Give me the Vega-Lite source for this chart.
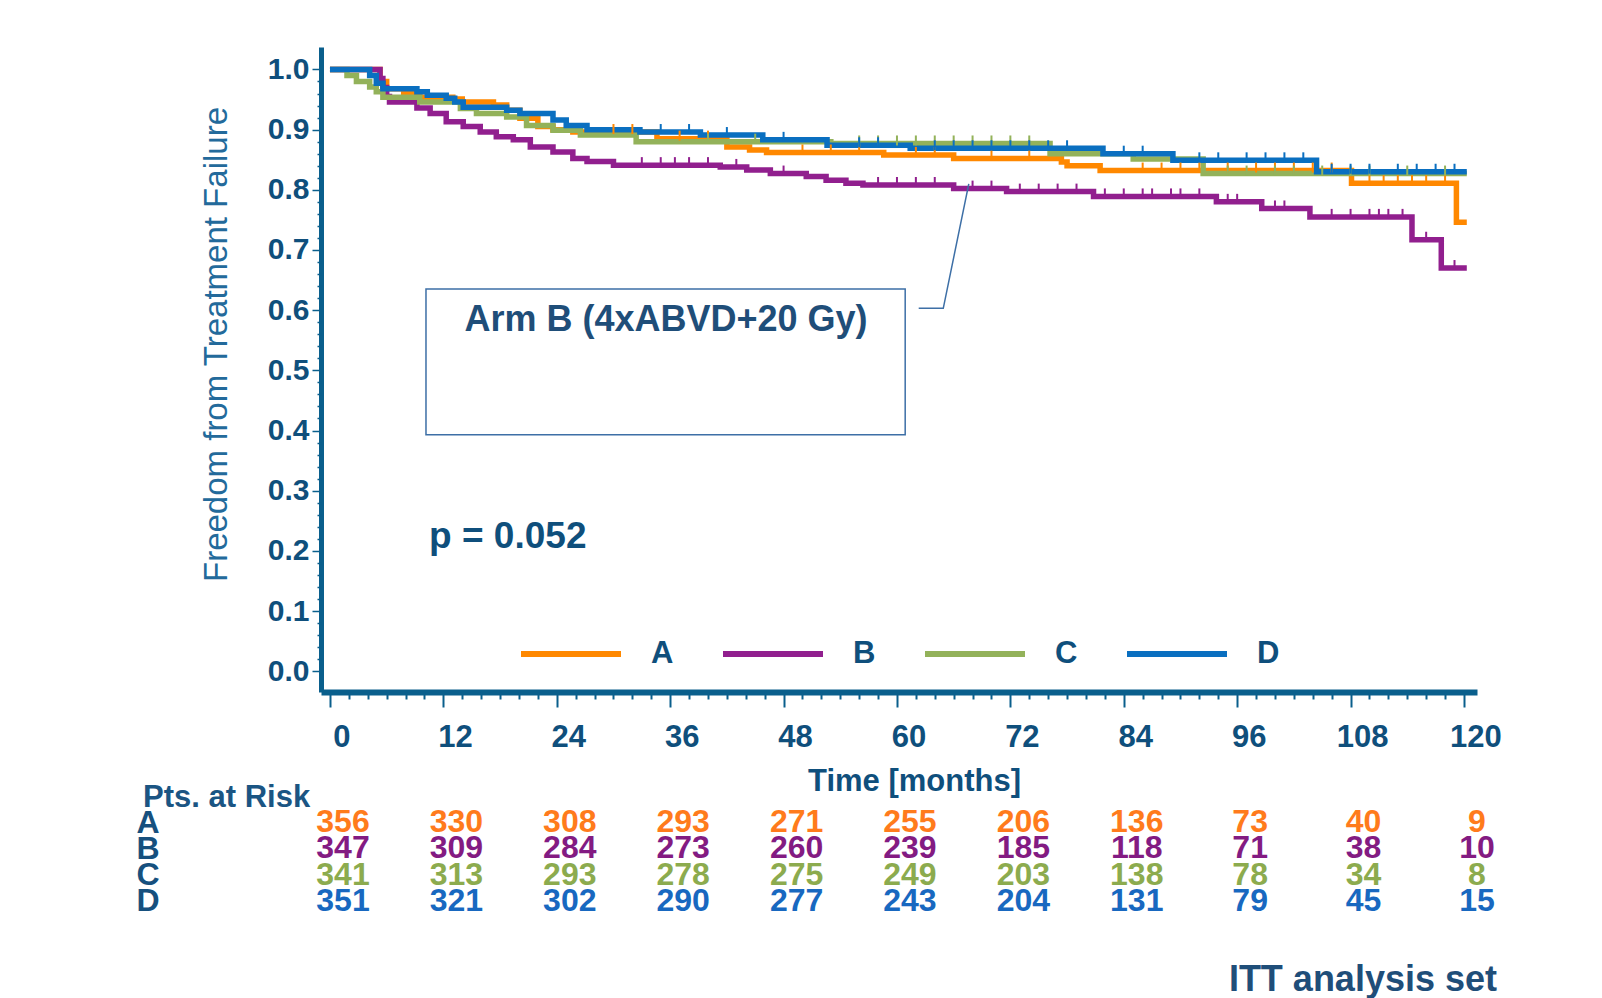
{
  "$schema": "https://vega.github.io/schema/vega-lite/v6.json",
  "padding": {"left": 136, "top": 47, "right": 5, "bottom": 5},
  "background": "white",
  "config": {"view": {"stroke": null}, "font": "Liberation Sans, Arial, sans-serif"},
  "title": {"text": "ITT analysis set", "orient": "bottom", "anchor": "end", "frame": "group", "fontSize": 36, "fontWeight": "bold", "color": "#1f4e79", "baseline": "alphabetic", "offset": 74, "dx": 20},
  "bounds": "flush",
  "spacing": 117,
  "resolve": {"scale": {"color": "independent"}, "legend": {"color": "independent"}},
  "datasets": {
    "curves": [
      {"arm": "A", "month": 0, "s": 1},
      {"arm": "A", "month": 5.3, "s": 0.98},
      {"arm": "A", "month": 6, "s": 0.968},
      {"arm": "A", "month": 7.8, "s": 0.96},
      {"arm": "A", "month": 9.5, "s": 0.954},
      {"arm": "A", "month": 13, "s": 0.951},
      {"arm": "A", "month": 14, "s": 0.946},
      {"arm": "A", "month": 17.3, "s": 0.941},
      {"arm": "A", "month": 18.7, "s": 0.932},
      {"arm": "A", "month": 20.1, "s": 0.919},
      {"arm": "A", "month": 22, "s": 0.905},
      {"arm": "A", "month": 23.6, "s": 0.9},
      {"arm": "A", "month": 25.7, "s": 0.896},
      {"arm": "A", "month": 34.6, "s": 0.885},
      {"arm": "A", "month": 42, "s": 0.871},
      {"arm": "A", "month": 44.4, "s": 0.866},
      {"arm": "A", "month": 46.2, "s": 0.862},
      {"arm": "A", "month": 58.6, "s": 0.858},
      {"arm": "A", "month": 66, "s": 0.852},
      {"arm": "A", "month": 77.4, "s": 0.846},
      {"arm": "A", "month": 78, "s": 0.84},
      {"arm": "A", "month": 81.5, "s": 0.832},
      {"arm": "A", "month": 108.1, "s": 0.811},
      {"arm": "A", "month": 119.2, "s": 0.746},
      {"arm": "A", "month": 120.3, "s": 0.746},
      {"arm": "B", "month": 0, "s": 1},
      {"arm": "B", "month": 5.3, "s": 0.985},
      {"arm": "B", "month": 5.6, "s": 0.97},
      {"arm": "B", "month": 6, "s": 0.955},
      {"arm": "B", "month": 6.3, "s": 0.946},
      {"arm": "B", "month": 9.2, "s": 0.936},
      {"arm": "B", "month": 10.6, "s": 0.927},
      {"arm": "B", "month": 12.3, "s": 0.913},
      {"arm": "B", "month": 14.1, "s": 0.905},
      {"arm": "B", "month": 15.9, "s": 0.896},
      {"arm": "B", "month": 17.6, "s": 0.888},
      {"arm": "B", "month": 19.4, "s": 0.883},
      {"arm": "B", "month": 21.2, "s": 0.871},
      {"arm": "B", "month": 23.6, "s": 0.863},
      {"arm": "B", "month": 25.7, "s": 0.852},
      {"arm": "B", "month": 27.2, "s": 0.847},
      {"arm": "B", "month": 30, "s": 0.841},
      {"arm": "B", "month": 41.3, "s": 0.838},
      {"arm": "B", "month": 44.1, "s": 0.833},
      {"arm": "B", "month": 46.6, "s": 0.827},
      {"arm": "B", "month": 50.4, "s": 0.822},
      {"arm": "B", "month": 52.5, "s": 0.816},
      {"arm": "B", "month": 54.6, "s": 0.811},
      {"arm": "B", "month": 56.4, "s": 0.808},
      {"arm": "B", "month": 66, "s": 0.802},
      {"arm": "B", "month": 71.6, "s": 0.797},
      {"arm": "B", "month": 80.8, "s": 0.789},
      {"arm": "B", "month": 93.8, "s": 0.78},
      {"arm": "B", "month": 98.6, "s": 0.769},
      {"arm": "B", "month": 103.7, "s": 0.755},
      {"arm": "B", "month": 114.5, "s": 0.717},
      {"arm": "B", "month": 117.6, "s": 0.67},
      {"arm": "B", "month": 120.3, "s": 0.67},
      {"arm": "C", "month": 0, "s": 1},
      {"arm": "C", "month": 1.8, "s": 0.99},
      {"arm": "C", "month": 2.8, "s": 0.98},
      {"arm": "C", "month": 4.2, "s": 0.971},
      {"arm": "C", "month": 4.9, "s": 0.963},
      {"arm": "C", "month": 5.6, "s": 0.954},
      {"arm": "C", "month": 9.5, "s": 0.946},
      {"arm": "C", "month": 13.8, "s": 0.935},
      {"arm": "C", "month": 15.5, "s": 0.927},
      {"arm": "C", "month": 18.7, "s": 0.921},
      {"arm": "C", "month": 20.8, "s": 0.907},
      {"arm": "C", "month": 23.6, "s": 0.899},
      {"arm": "C", "month": 26.5, "s": 0.891},
      {"arm": "C", "month": 32.4, "s": 0.88},
      {"arm": "C", "month": 53, "s": 0.877},
      {"arm": "C", "month": 76.2, "s": 0.86},
      {"arm": "C", "month": 85, "s": 0.851},
      {"arm": "C", "month": 92.4, "s": 0.827},
      {"arm": "C", "month": 120.3, "s": 0.827},
      {"arm": "D", "month": 0, "s": 1},
      {"arm": "D", "month": 4.2, "s": 0.99},
      {"arm": "D", "month": 4.9, "s": 0.977},
      {"arm": "D", "month": 5.6, "s": 0.968},
      {"arm": "D", "month": 9.2, "s": 0.963},
      {"arm": "D", "month": 10.3, "s": 0.957},
      {"arm": "D", "month": 12.3, "s": 0.952},
      {"arm": "D", "month": 13.2, "s": 0.946},
      {"arm": "D", "month": 14.1, "s": 0.937},
      {"arm": "D", "month": 18.7, "s": 0.932},
      {"arm": "D", "month": 20.1, "s": 0.927},
      {"arm": "D", "month": 23.6, "s": 0.916},
      {"arm": "D", "month": 25, "s": 0.907},
      {"arm": "D", "month": 27.2, "s": 0.9},
      {"arm": "D", "month": 32.8, "s": 0.896},
      {"arm": "D", "month": 39.2, "s": 0.891},
      {"arm": "D", "month": 45.8, "s": 0.883},
      {"arm": "D", "month": 52.6, "s": 0.874},
      {"arm": "D", "month": 61.4, "s": 0.869},
      {"arm": "D", "month": 81.8, "s": 0.86},
      {"arm": "D", "month": 89.2, "s": 0.849},
      {"arm": "D", "month": 104.4, "s": 0.83},
      {"arm": "D", "month": 120.3, "s": 0.83}
    ],
    "censor": [
      {"arm": "A", "month": 30, "s": 0.896}, {"arm": "A", "month": 32, "s": 0.896}, {"arm": "A", "month": 37, "s": 0.885},
      {"arm": "A", "month": 40, "s": 0.885}, {"arm": "A", "month": 50, "s": 0.862}, {"arm": "A", "month": 53, "s": 0.862},
      {"arm": "A", "month": 56, "s": 0.862}, {"arm": "A", "month": 62, "s": 0.858}, {"arm": "A", "month": 64, "s": 0.858},
      {"arm": "A", "month": 70, "s": 0.852}, {"arm": "A", "month": 74, "s": 0.852}, {"arm": "A", "month": 86, "s": 0.832},
      {"arm": "A", "month": 88, "s": 0.832}, {"arm": "A", "month": 90, "s": 0.832}, {"arm": "A", "month": 92, "s": 0.832},
      {"arm": "A", "month": 95, "s": 0.832}, {"arm": "A", "month": 98, "s": 0.832}, {"arm": "A", "month": 100, "s": 0.832},
      {"arm": "A", "month": 102, "s": 0.832}, {"arm": "A", "month": 104, "s": 0.832}, {"arm": "A", "month": 106, "s": 0.832},
      {"arm": "A", "month": 110, "s": 0.811}, {"arm": "A", "month": 111.5, "s": 0.811}, {"arm": "A", "month": 113, "s": 0.811},
      {"arm": "A", "month": 114.5, "s": 0.811}, {"arm": "A", "month": 116, "s": 0.811}, {"arm": "A", "month": 118, "s": 0.811},
      {"arm": "B", "month": 33, "s": 0.841}, {"arm": "B", "month": 35, "s": 0.841}, {"arm": "B", "month": 36.5, "s": 0.841},
      {"arm": "B", "month": 38, "s": 0.841}, {"arm": "B", "month": 40, "s": 0.841}, {"arm": "B", "month": 43, "s": 0.838},
      {"arm": "B", "month": 48, "s": 0.827}, {"arm": "B", "month": 58, "s": 0.808}, {"arm": "B", "month": 60, "s": 0.808},
      {"arm": "B", "month": 62, "s": 0.808}, {"arm": "B", "month": 64, "s": 0.808}, {"arm": "B", "month": 68, "s": 0.802},
      {"arm": "B", "month": 70, "s": 0.802}, {"arm": "B", "month": 73, "s": 0.797}, {"arm": "B", "month": 75, "s": 0.797},
      {"arm": "B", "month": 77, "s": 0.797}, {"arm": "B", "month": 79, "s": 0.797}, {"arm": "B", "month": 82, "s": 0.789},
      {"arm": "B", "month": 84, "s": 0.789}, {"arm": "B", "month": 86, "s": 0.789}, {"arm": "B", "month": 87, "s": 0.789},
      {"arm": "B", "month": 89, "s": 0.789}, {"arm": "B", "month": 90, "s": 0.789}, {"arm": "B", "month": 92, "s": 0.789},
      {"arm": "B", "month": 95, "s": 0.78}, {"arm": "B", "month": 96, "s": 0.78}, {"arm": "B", "month": 100, "s": 0.769},
      {"arm": "B", "month": 101, "s": 0.769}, {"arm": "B", "month": 106, "s": 0.755}, {"arm": "B", "month": 108, "s": 0.755},
      {"arm": "B", "month": 110, "s": 0.755}, {"arm": "B", "month": 111, "s": 0.755}, {"arm": "B", "month": 112, "s": 0.755},
      {"arm": "B", "month": 113.5, "s": 0.755}, {"arm": "B", "month": 116, "s": 0.717}, {"arm": "B", "month": 119, "s": 0.67},
      {"arm": "C", "month": 40, "s": 0.88}, {"arm": "C", "month": 45, "s": 0.88}, {"arm": "C", "month": 56, "s": 0.877},
      {"arm": "C", "month": 58, "s": 0.877}, {"arm": "C", "month": 60, "s": 0.877}, {"arm": "C", "month": 62, "s": 0.877},
      {"arm": "C", "month": 64, "s": 0.877}, {"arm": "C", "month": 66, "s": 0.877}, {"arm": "C", "month": 68, "s": 0.877},
      {"arm": "C", "month": 70, "s": 0.877}, {"arm": "C", "month": 72, "s": 0.877}, {"arm": "C", "month": 74, "s": 0.877},
      {"arm": "C", "month": 95, "s": 0.827}, {"arm": "C", "month": 97, "s": 0.827}, {"arm": "C", "month": 100, "s": 0.827},
      {"arm": "C", "month": 102, "s": 0.827}, {"arm": "C", "month": 105, "s": 0.827}, {"arm": "C", "month": 108, "s": 0.827},
      {"arm": "C", "month": 110, "s": 0.827}, {"arm": "C", "month": 114, "s": 0.827}, {"arm": "C", "month": 118, "s": 0.827},
      {"arm": "D", "month": 35, "s": 0.896}, {"arm": "D", "month": 38, "s": 0.896}, {"arm": "D", "month": 42, "s": 0.891},
      {"arm": "D", "month": 48, "s": 0.883}, {"arm": "D", "month": 56, "s": 0.874}, {"arm": "D", "month": 58, "s": 0.874},
      {"arm": "D", "month": 64, "s": 0.869}, {"arm": "D", "month": 66, "s": 0.869}, {"arm": "D", "month": 68, "s": 0.869},
      {"arm": "D", "month": 70, "s": 0.869}, {"arm": "D", "month": 72, "s": 0.869}, {"arm": "D", "month": 74, "s": 0.869},
      {"arm": "D", "month": 76, "s": 0.869}, {"arm": "D", "month": 78, "s": 0.869}, {"arm": "D", "month": 84, "s": 0.86},
      {"arm": "D", "month": 86, "s": 0.86}, {"arm": "D", "month": 92, "s": 0.849}, {"arm": "D", "month": 94, "s": 0.849},
      {"arm": "D", "month": 97, "s": 0.849}, {"arm": "D", "month": 99, "s": 0.849}, {"arm": "D", "month": 101, "s": 0.849},
      {"arm": "D", "month": 103, "s": 0.849}, {"arm": "D", "month": 106, "s": 0.83}, {"arm": "D", "month": 108, "s": 0.83},
      {"arm": "D", "month": 110, "s": 0.83}, {"arm": "D", "month": 113, "s": 0.83}, {"arm": "D", "month": 115, "s": 0.83},
      {"arm": "D", "month": 117, "s": 0.83}, {"arm": "D", "month": 119, "s": 0.83}
    ],
    "box": [{"x1": 10.16, "x2": 60.87, "y1": 0.3928, "y2": 0.6352}],
    "leader": [
      {"i": 1, "month": 62.3, "s": 0.603},
      {"i": 2, "month": 64.9, "s": 0.603},
      {"i": 3, "month": 67.6, "s": 0.81}
    ],
    "armlabel": [{"month": 35.56, "s": 0.5843, "label": "Arm B (4xABVD+20 Gy)"}],
    "pval": [{"month": 10.49, "s": 0.2233, "label": "p = 0.052"}],
    "risk": [
      {"arm": "A", "month": 0, "n": 356}, {"arm": "A", "month": 12, "n": 330}, {"arm": "A", "month": 24, "n": 308}, {"arm": "A", "month": 36, "n": 293}, {"arm": "A", "month": 48, "n": 271}, {"arm": "A", "month": 60, "n": 255}, {"arm": "A", "month": 72, "n": 206}, {"arm": "A", "month": 84, "n": 136}, {"arm": "A", "month": 96, "n": 73}, {"arm": "A", "month": 108, "n": 40}, {"arm": "A", "month": 120, "n": 9},
      {"arm": "B", "month": 0, "n": 347}, {"arm": "B", "month": 12, "n": 309}, {"arm": "B", "month": 24, "n": 284}, {"arm": "B", "month": 36, "n": 273}, {"arm": "B", "month": 48, "n": 260}, {"arm": "B", "month": 60, "n": 239}, {"arm": "B", "month": 72, "n": 185}, {"arm": "B", "month": 84, "n": 118}, {"arm": "B", "month": 96, "n": 71}, {"arm": "B", "month": 108, "n": 38}, {"arm": "B", "month": 120, "n": 10},
      {"arm": "C", "month": 0, "n": 341}, {"arm": "C", "month": 12, "n": 313}, {"arm": "C", "month": 24, "n": 293}, {"arm": "C", "month": 36, "n": 278}, {"arm": "C", "month": 48, "n": 275}, {"arm": "C", "month": 60, "n": 249}, {"arm": "C", "month": 72, "n": 203}, {"arm": "C", "month": 84, "n": 138}, {"arm": "C", "month": 96, "n": 78}, {"arm": "C", "month": 108, "n": 34}, {"arm": "C", "month": 120, "n": 8},
      {"arm": "D", "month": 0, "n": 351}, {"arm": "D", "month": 12, "n": 321}, {"arm": "D", "month": 24, "n": 302}, {"arm": "D", "month": 36, "n": 290}, {"arm": "D", "month": 48, "n": 277}, {"arm": "D", "month": 60, "n": 243}, {"arm": "D", "month": 72, "n": 204}, {"arm": "D", "month": 84, "n": 131}, {"arm": "D", "month": 96, "n": 79}, {"arm": "D", "month": 108, "n": 45}, {"arm": "D", "month": 120, "n": 15}
    ]
  },
  "vconcat": [
    {
      "width": 1156,
      "height": 645,
      "resolve": {"axis": {"x": "independent", "y": "independent"}},
      "layer": [
        {
          "data": {"name": "curves"},
          "mark": {"type": "line", "interpolate": "step-after", "strokeWidth": 5.5},
          "encoding": {
            "x": {
              "field": "month", "type": "quantitative",
              "scale": {"domain": [-0.95, 121.38], "nice": false, "zero": false},
              "axis": {
                "orient": "bottom",
                "values": [0, 12, 24, 36, 48, 60, 72, 84, 96, 108, 120],
                "tickSize": 15, "tickColor": "#0a5f8c", "tickWidth": 2,
                "domainColor": "#0a5f8c", "domainWidth": 6,
                "labelFontSize": 31, "labelFontWeight": "bold", "labelColor": "#0f4f7c",
                "labelPadding": 15, "labelOffset": 11.5, "labelFlush": false, "labelOverlap": false,
                "grid": false,
                "title": "Time [months]", "titleFontSize": 31, "titleFontWeight": "bold", "titleColor": "#0f4f7c",
                "titleX": 593, "titleY": 98, "titleBaseline": "alphabetic", "titleAlign": "center"
              }
            },
            "y": {
              "field": "s", "type": "quantitative",
              "scale": {"domain": [-0.0345, 1.0373], "nice": false, "zero": false},
              "axis": {
                "orient": "left",
                "values": [0, 0.1, 0.2, 0.3, 0.4, 0.5, 0.6, 0.7, 0.8, 0.9, 1.0],
                "format": ".1f",
                "tickSize": 9, "tickColor": "#0a5f8c", "tickWidth": 1.5,
                "domainColor": "#0a5f8c", "domainWidth": 5,
                "labelFontSize": 30, "labelFontWeight": "bold", "labelColor": "#0f4f7c",
                "labelPadding": 3, "labelOverlap": false, "labelFlush": false,
                "grid": false,
                "title": "Freedom from Treatment Failure", "titleFontSize": 33, "titleFontWeight": "normal", "titleColor": "#236a9b",
                "titleX": -105, "titleY": 297, "titleAngle": 270, "titleAlign": "center", "titleBaseline": "middle"
              }
            },
            "color": {
              "field": "arm", "type": "nominal",
              "scale": {"domain": ["A", "B", "C", "D"], "range": ["#ff8800", "#911f8e", "#93b25a", "#0a6fc0"]},
              "legend": {
                "orient": "none", "legendX": 197, "legendY": 554, "direction": "horizontal", "title": null,
                "symbolType": "stroke", "symbolSize": 10000, "symbolStrokeWidth": 6, "symbolOpacity": 1,
                "labelFontSize": 31, "labelFontWeight": "bold", "labelColor": "#0f4f7c",
                "labelOffset": 27, "columnPadding": 37, "padding": 0
              }
            }
          }
        },
        {
          "data": {"name": "censor"},
          "mark": {"type": "tick", "orient": "vertical", "size": 10, "thickness": 2, "yOffset": -3, "opacity": 1},
          "encoding": {
            "x": {"field": "month", "type": "quantitative", "axis": null},
            "y": {"field": "s", "type": "quantitative", "axis": null},
            "color": {"field": "arm", "type": "nominal"}
          }
        },
        {
          "data": {"name": "box"},
          "mark": {"type": "rect", "fill": null, "stroke": "#3d6fa6", "strokeWidth": 1.5},
          "encoding": {
            "x": {
              "field": "x1", "type": "quantitative",
              "axis": {
                "orient": "bottom", "title": null, "labels": false, "domain": false, "grid": false,
                "values": [2,4,6,8,10,14,16,18,20,22,26,28,30,32,34,38,40,42,44,46,50,52,54,56,58,62,64,66,68,70,74,76,78,80,82,86,88,90,92,94,98,100,102,104,106,110,112,114,116,118],
                "tickSize": 7, "tickColor": "#0a5f8c", "tickWidth": 2
              }
            },
            "x2": {"field": "x2"},
            "y": {
              "field": "y1", "type": "quantitative",
              "axis": {
                "orient": "left", "title": null, "labels": false, "domain": false, "grid": false,
                "values": [0.02,0.04,0.06,0.08,0.12,0.14,0.16,0.18,0.22,0.24,0.26,0.28,0.32,0.34,0.36,0.38,0.42,0.44,0.46,0.48,0.52,0.54,0.56,0.58,0.62,0.64,0.66,0.68,0.72,0.74,0.76,0.78,0.82,0.84,0.86,0.88,0.92,0.94,0.96,0.98],
                "tickSize": 4, "tickColor": "#0a5f8c", "tickWidth": 1.5
              }
            },
            "y2": {"field": "y2"}
          }
        },
        {
          "data": {"name": "leader"},
          "mark": {"type": "line", "stroke": "#3d6fa6", "strokeWidth": 1.5},
          "encoding": {
            "x": {"field": "month", "type": "quantitative", "axis": null},
            "y": {"field": "s", "type": "quantitative", "axis": null},
            "order": {"field": "i", "type": "quantitative"}
          }
        },
        {
          "data": {"name": "armlabel"},
          "mark": {"type": "text", "fontSize": 36, "fontWeight": "bold", "color": "#1f4e79", "align": "center", "baseline": "middle"},
          "encoding": {
            "x": {"field": "month", "type": "quantitative", "axis": null},
            "y": {"field": "s", "type": "quantitative", "axis": null},
            "text": {"field": "label"}
          }
        },
        {
          "data": {"name": "pval"},
          "mark": {"type": "text", "fontSize": 37, "fontWeight": "bold", "color": "#0f4f7c", "align": "left", "baseline": "middle"},
          "encoding": {
            "x": {"field": "month", "type": "quantitative", "axis": null},
            "y": {"field": "s", "type": "quantitative", "axis": null},
            "text": {"field": "label"}
          }
        }
      ]
    },
    {
      "width": 1156,
      "height": 105,
      "data": {"name": "risk"},
      "title": {"text": "Pts. at Risk", "anchor": "start", "orient": "top", "frame": "group", "dx": -178, "dy": 33, "fontSize": 31, "fontWeight": "bold", "color": "#1b5583", "baseline": "alphabetic", "offset": 1},
      "mark": {"type": "text", "fontSize": 32, "fontWeight": "bold", "dx": 13, "baseline": "middle", "align": "center"},
      "encoding": {
        "x": {"field": "month", "type": "quantitative", "scale": {"domain": [-0.95, 121.38], "nice": false, "zero": false}, "axis": null},
        "y": {
          "field": "arm", "type": "nominal",
          "scale": {"type": "point", "domain": ["A", "B", "C", "D"], "padding": 0.5},
          "axis": {"title": null, "domain": false, "ticks": false, "tickSize": 0, "labelAlign": "left", "labelPadding": 185, "labelFontSize": 32, "labelFontWeight": "bold", "labelColor": "#16507e", "labelBaseline": "middle"}
        },
        "text": {"field": "n", "type": "quantitative"},
        "color": {
          "field": "arm", "type": "nominal",
          "scale": {"domain": ["A", "B", "C", "D"], "range": ["#ff7b1c", "#831b82", "#8cab4e", "#1868c0"]},
          "legend": null
        }
      }
    }
  ]
}
